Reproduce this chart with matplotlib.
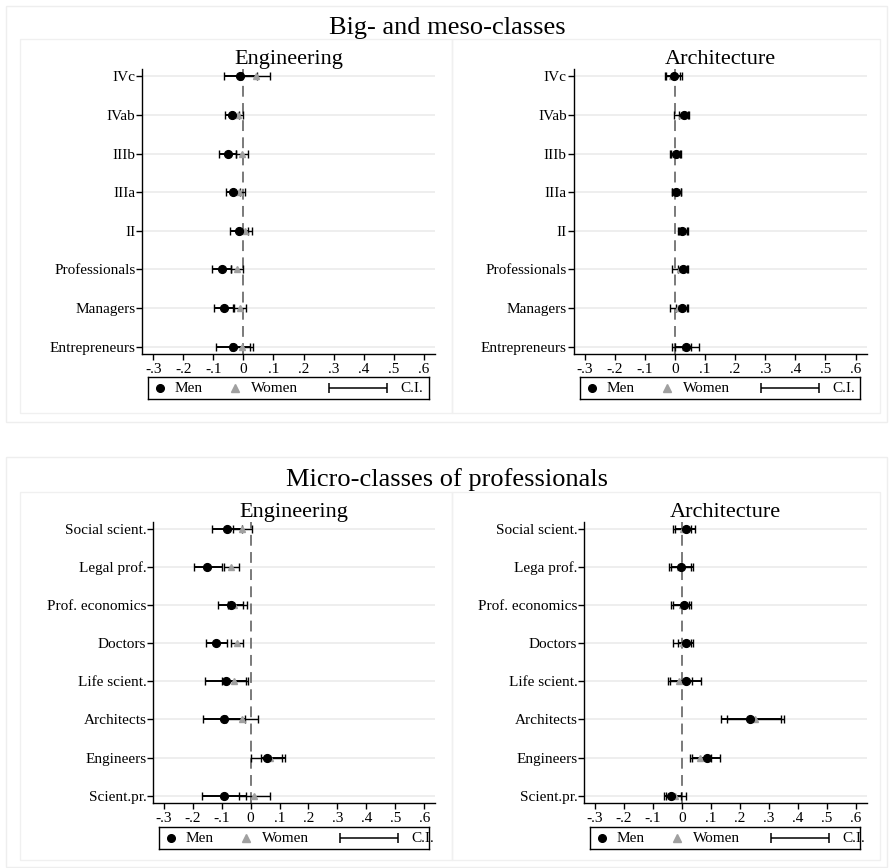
import matplotlib
matplotlib.use("Agg")
import matplotlib.pyplot as plt
from matplotlib.patches import Rectangle

plt.rcParams['font.family'] = ['Liberation Serif', 'DejaVu Serif']

W, H = 893, 868

# categories, listed from bottom to top of each panel
big_classes = ["Entrepreneurs", "Managers", "Professionals", "II", "IIIa",
               "IIIb", "IVab", "IVc"]
micro_eng = ["Scient.pr.", "Engineers", "Architects", "Life scient.",
             "Doctors", "Prof. economics", "Legal prof.", "Social scient."]
micro_arc = ["Scient.pr.", "Engineers", "Architects", "Life scient.",
             "Doctors", "Prof. economics", "Lega prof.", "Social scient."]

# Big/meso classes - Engineering
eng_big_men = [-0.035, -0.065, -0.072, -0.014, -0.034, -0.052, -0.037, -0.010]
eng_big_men_lo = [-0.090, -0.099, -0.103, -0.043, -0.058, -0.080, -0.060, -0.066]
eng_big_men_hi = [0.023, -0.032, -0.042, 0.015, -0.010, -0.024, -0.014, 0.046]
eng_big_wom = [-0.004, -0.012, -0.022, 0.006, -0.015, -0.004, -0.018, 0.041]
eng_big_wom_lo = [-0.040, -0.033, -0.042, -0.018, -0.035, -0.025, -0.035, -0.004]
eng_big_wom_hi = [0.032, 0.010, -0.001, 0.030, 0.006, 0.016, 0.000, 0.087]

# Big/meso classes - Architecture
arc_big_men = [0.036, 0.024, 0.028, 0.025, 0.005, 0.003, 0.030, -0.004]
arc_big_men_lo = [0.000, 0.005, 0.012, 0.010, -0.009, -0.016, 0.014, -0.032]
arc_big_men_hi = [0.053, 0.044, 0.045, 0.040, 0.020, 0.021, 0.046, 0.024]
arc_big_wom = [0.035, 0.012, 0.018, 0.028, 0.006, 0.000, 0.022, -0.008]
arc_big_wom_lo = [-0.009, -0.017, -0.008, 0.013, -0.010, -0.014, -0.002, -0.030]
arc_big_wom_hi = [0.080, 0.040, 0.040, 0.044, 0.021, 0.018, 0.045, 0.016]

# Micro classes - Engineering
eng_mic_men = [-0.093, 0.057, -0.092, -0.085, -0.118, -0.068, -0.149, -0.081]
eng_mic_men_lo = [-0.168, 0.037, -0.165, -0.158, -0.153, -0.111, -0.197, -0.133]
eng_mic_men_hi = [-0.015, 0.118, -0.020, -0.015, -0.081, -0.025, -0.099, -0.030]
eng_mic_wom = [0.012, 0.068, -0.030, -0.057, -0.046, -0.058, -0.067, -0.030]
eng_mic_wom_lo = [-0.040, 0.002, -0.085, -0.100, -0.069, -0.078, -0.093, -0.059]
eng_mic_wom_hi = [0.066, 0.110, 0.024, -0.010, -0.027, -0.012, -0.039, 0.004]

# Micro classes - Architecture
arc_mic_men = [-0.037, 0.088, 0.234, 0.013, 0.013, 0.006, -0.003, 0.015]
arc_mic_men_lo = [-0.063, 0.036, 0.134, -0.040, -0.014, -0.029, -0.036, -0.025]
arc_mic_men_hi = [-0.003, 0.133, 0.341, 0.067, 0.037, 0.032, 0.040, 0.046]
arc_mic_wom = [-0.023, 0.064, 0.251, -0.008, 0.003, 0.000, -0.006, 0.003]
arc_mic_wom_lo = [-0.054, 0.029, 0.154, -0.046, -0.031, -0.037, -0.043, -0.032]
arc_mic_wom_hi = [0.014, 0.100, 0.353, 0.034, 0.030, 0.025, 0.030, 0.030]

xticks = [-0.3, -0.2, -0.1, 0, 0.1, 0.2, 0.3, 0.4, 0.5, 0.6]
xticklabels = ["-.3", "-.2", "-.1", "0", ".1", ".2", ".3", ".4", ".5", ".6"]

GRAY = "#a0a0a0"


def px_box(l, t, r, b):
    return [l / W, 1 - b / H, (r - l) / W, (b - t) / H]


def frame(fig, l, t, r, b, color):
    fig.patches.append(Rectangle((l / W, 1 - b / H), (r - l) / W, (b - t) / H,
                                 transform=fig.transFigure, facecolor="none",
                                 edgecolor=color, lw=1.0, zorder=0))


def key_box(fig, l, t, r, b):
    # legend drawn in its own small axes, units are pixels from the left edge
    lg = fig.add_axes(px_box(l, t, r, b))
    lg.set_xlim(0, r - l)
    lg.set_ylim(-1, 1)
    lg.set_xticks([])
    lg.set_yticks([])
    for sp in lg.spines.values():
        sp.set_linewidth(1.0)
        sp.set_color("black")
    lg.plot([12], [0], ls="none", marker="o", ms=5.5, color="black")
    lg.text(27, 0, "Men", va="center", ha="left", fontsize=11)
    lg.plot([87], [0], ls="none", marker="^", ms=5.5, color=GRAY)
    lg.text(103, 0, "Women", va="center", ha="left", fontsize=11)
    lg.errorbar([210], [0], xerr=[[29], [29]], fmt="none", ecolor="black",
                elinewidth=1.1, capsize=3.5, capthick=1.1)
    lg.text(252, 0, "C.I.", va="center", ha="left", fontsize=11)


def coefplot(fig, box, title, labels, men, men_lo, men_hi,
             wom, wom_lo, wom_hi, legbox):
    ax = fig.add_axes(px_box(*box))
    ys = list(range(1, len(labels) + 1))
    for y in ys:
        ax.axhline(y, color="#ebebeb", lw=1.2, zorder=0)
    ax.axvline(0, color="#707070", lw=1.3, ls=(0, (6, 3.5)), zorder=1)

    w_err = [[w - lo for w, lo in zip(wom, wom_lo)],
             [hi - w for w, hi in zip(wom, wom_hi)]]
    m_err = [[m - lo for m, lo in zip(men, men_lo)],
             [hi - m for m, hi in zip(men, men_hi)]]
    ax.errorbar(wom, ys, xerr=w_err, fmt="none", ecolor="black",
                elinewidth=1.0, capsize=2.8, capthick=1.0, zorder=2)
    ax.errorbar(men, ys, xerr=m_err, fmt="none", ecolor="black",
                elinewidth=1.4, capsize=2.8, capthick=1.0, zorder=2)
    ax.plot(wom, ys, ls="none", marker="^", ms=5, color=GRAY, zorder=3)
    ax.plot(men, ys, ls="none", marker="o", ms=5.6, color="black", zorder=4)

    ax.set_xlim(-0.336, 0.637)
    ax.set_ylim(0.815, 8.185)
    ax.set_xticks(xticks)
    ax.set_xticklabels(xticklabels, fontsize=11)
    ax.set_yticks(ys)
    ax.set_yticklabels(labels, fontsize=11)
    ax.tick_params(axis="both", direction="out", length=4, width=1,
                   color="black")
    ax.tick_params(axis="x", pad=3)
    ax.tick_params(axis="y", pad=1)
    for side in ("top", "right"):
        ax.spines[side].set_visible(False)
    for side in ("left", "bottom"):
        ax.spines[side].set_linewidth(1.0)
    ax.set_title(title, fontsize=16, pad=1)

    key_box(fig, *legbox)
    return ax


fig = plt.figure(figsize=(W / 100, H / 100), dpi=100)

# section frames
frame(fig, 6, 6, 887, 422, "#eeeeee")
frame(fig, 6, 457, 887, 867, "#eeeeee")
frame(fig, 20, 39, 452, 413, "#f0f0f0")
frame(fig, 452, 39, 880, 413, "#f0f0f0")
frame(fig, 20, 492, 452, 860, "#f0f0f0")
frame(fig, 452, 492, 880, 860, "#f0f0f0")

fig.text(447 / W, 1 - 28 / H, "Big- and meso-classes", ha="center",
         va="center", fontsize=19)
fig.text(447 / W, 1 - 480 / H, "Micro-classes of professionals",
         ha="center", va="center", fontsize=19)

coefplot(fig, (142.3, 69.3, 435, 353.7), "Engineering", big_classes,
         eng_big_men, eng_big_men_lo, eng_big_men_hi,
         eng_big_wom, eng_big_wom_lo, eng_big_wom_hi, (148, 377, 429, 399))
coefplot(fig, (573.7, 69.3, 866.7, 353.7), "Architecture", big_classes,
         arc_big_men, arc_big_men_lo, arc_big_men_hi,
         arc_big_wom, arc_big_wom_lo, arc_big_wom_hi, (580, 377, 860, 399))
coefplot(fig, (153.3, 521.7, 435, 802.7), "Engineering", micro_eng,
         eng_mic_men, eng_mic_men_lo, eng_mic_men_hi,
         eng_mic_wom, eng_mic_wom_lo, eng_mic_wom_hi, (159, 827, 429, 849))
coefplot(fig, (584.3, 521.7, 866.7, 802.7), "Architecture", micro_arc,
         arc_mic_men, arc_mic_men_lo, arc_mic_men_hi,
         arc_mic_wom, arc_mic_wom_lo, arc_mic_wom_hi, (590, 827, 860, 849))

fig.savefig("out.png", dpi=100)
